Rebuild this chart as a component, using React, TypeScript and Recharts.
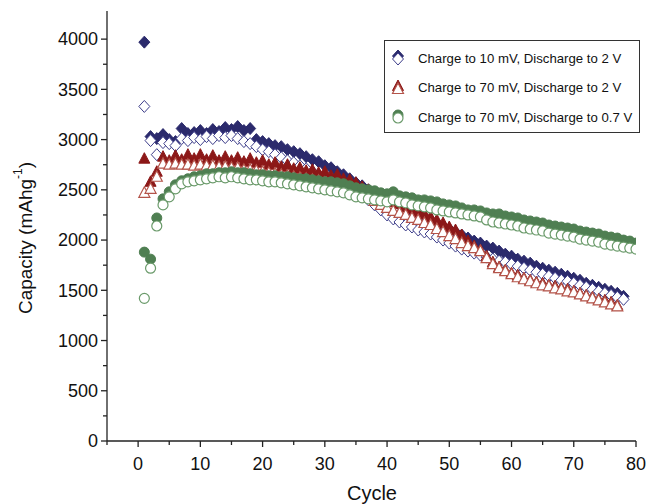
import React from 'react';
import { ScatterChart, Scatter, XAxis, YAxis } from 'recharts';

// Capacity (mAh/g) by cycle
const navyCharge = [3970, 3030, 3010, 3050, 3000, 2980, 3110, 3060, 3070, 3090,
  3060, 3100, 3080, 3120, 3100, 3130, 3090, 3110, 3000, 2980,
  2960, 2940, 2930, 2900, 2880, 2860, 2830, 2800, 2780, 2740,
  2720, 2680, 2650, 2610, 2570, 2540, 2500, 2470, 2440, 2410,
  2380, 2350, 2320, 2290, 2260, 2230, 2200, 2170, 2140, 2110,
  2080, 2050, 2020, 1990, 1970, 1940, 1920, 1890, 1860, 1840,
  1810, 1790, 1770, 1740, 1720, 1700, 1680, 1660, 1640, 1620,
  1600, 1570, 1550, 1530, 1510, 1490, 1470, 1440];
const navyDischarge = [3330, 2990, 2850, 2970, 2960, 2940, 3010, 2990, 3020, 3000,
  3030, 3010, 3040, 3020, 3040, 3010, 2980, 2960, 2930, 2900,
  2880, 2850, 2820, 2790, 2770, 2740, 2710, 2680, 2650, 2620,
  2600, 2570, 2550, 2520, 2490, 2450, 2400, 2350, 2300, 2250,
  2210, 2180, 2150, 2130, 2100, 2080, 2060, 2030, 2000, 1970,
  1940, 1910, 1890, 1870, 1850, 1830, 1810, 1790, 1780, 1760,
  1740, 1720, 1700, 1680, 1660, 1640, 1620, 1600, 1590, 1570,
  1550, 1530, 1510, 1490, 1470, 1450, 1430, 1410];
const redCharge = [2810, 2580, 2680, 2830, 2790, 2840, 2800, 2850, 2810, 2850,
  2800, 2840, 2790, 2830, 2790, 2820, 2780, 2810, 2770, 2790,
  2750, 2770, 2730, 2750, 2710, 2720, 2690, 2700, 2670, 2680,
  2640, 2650, 2610, 2600, 2570, 2530, 2500, 2470, 2440, 2410,
  2380, 2360, 2330, 2310, 2280, 2260, 2230, 2200, 2170, 2130,
  2100, 2050, 1990, 1940, 1900, 1840, 1780, 1730, 1700, 1670,
  1650, 1620, 1600, 1580, 1570, 1550, 1540, 1520, 1510, 1490,
  1470, 1450, 1430, 1410, 1400, 1380, 1350];
const redDischarge = [2470, 2510, 2630, 2760, 2750, 2760, 2750, 2750, 2740, 2750,
  2740, 2740, 2730, 2730, 2720, 2720, 2700, 2700, 2690, 2680,
  2670, 2660, 2650, 2640, 2630, 2620, 2610, 2600, 2590, 2570,
  2560, 2550, 2540, 2520, 2500, 2460, 2420, 2390, 2350, 2320,
  2290, 2270, 2250, 2220, 2200, 2170, 2150, 2110, 2080, 2040,
  2010, 1970, 1940, 1920, 1890, 1820, 1760, 1720, 1690, 1660,
  1630, 1610, 1590, 1570, 1550, 1540, 1520, 1510, 1490, 1480,
  1460, 1440, 1420, 1400, 1380, 1360, 1340];
const greenCharge = [1880, 1810, 2220, 2410, 2480, 2550, 2590, 2610, 2630, 2640,
  2660, 2660, 2670, 2670, 2680, 2670, 2670, 2660, 2650, 2650,
  2640, 2640, 2630, 2630, 2620, 2610, 2610, 2600, 2590, 2580,
  2580, 2570, 2560, 2540, 2520, 2510, 2500, 2490, 2470, 2460,
  2480, 2440, 2430, 2420, 2400, 2400, 2390, 2380, 2360, 2350,
  2340, 2320, 2300, 2300, 2290, 2270, 2260, 2260, 2240, 2230,
  2220, 2200, 2190, 2180, 2170, 2150, 2140, 2130, 2120, 2110,
  2090, 2080, 2070, 2060, 2040, 2030, 2020, 2000, 1990, 1970];
const greenDischarge = [1420, 1720, 2140, 2350, 2430, 2510, 2560, 2580, 2590, 2600,
  2610, 2620, 2630, 2620, 2630, 2620, 2610, 2600, 2600, 2590,
  2580, 2580, 2570, 2560, 2550, 2540, 2530, 2520, 2510, 2500,
  2490, 2480, 2470, 2450, 2430, 2420, 2410, 2400, 2390, 2380,
  2400, 2380, 2370, 2350, 2340, 2330, 2320, 2300, 2290, 2280,
  2270, 2260, 2250, 2240, 2230, 2200, 2180, 2170, 2160, 2150,
  2140, 2120, 2110, 2100, 2090, 2070, 2060, 2050, 2040, 2030,
  2010, 2000, 1990, 1980, 1960, 1950, 1940, 1930, 1920, 1910];

const xTicks = [-5, 0, 5, 10, 15, 20, 25, 30, 35, 40, 45, 50, 55, 60, 65, 70, 75, 80];
const yTicks = [0, 250, 500, 750, 1000, 1250, 1500, 1750, 2000, 2250, 2500, 2750, 3000, 3250, 3500, 3750, 4000];
const legendLabels = [
  'Charge to 10 mV, Discharge to 2 V',
  'Charge to 70 mV, Discharge to 2 V',
  'Charge to 70 mV, Discharge to 0.7 V',
];

const toPoints = (vals: number[]) => vals.map((v, i) => ({ cycle: i + 1, capacity: v }));

const NAVY = '#2b2a6c';
const NAVY_OPEN = '#3d3d8a';
const RED = '#8c1818';
const RED_OPEN = '#b4544a';
const GREEN = '#4f7f52';
const GREEN_OPEN = '#6a9a6a';
const FONT = 'Arial, "Liberation Sans", sans-serif';

const diamond = (cx: number, cy: number, fill: string, stroke: string, sw: number) => (
  <path d={`M${cx},${cy - 6}L${cx + 5.5},${cy}L${cx},${cy + 6}L${cx - 5.5},${cy}Z`} fill={fill} stroke={stroke} strokeWidth={sw} />
);
const triangle = (cx: number, cy: number, fill: string, stroke: string, sw: number) => (
  <path d={`M${cx},${cy - 6}L${cx + 5.5},${cy + 4.5}L${cx - 5.5},${cy + 4.5}Z`} fill={fill} stroke={stroke} strokeWidth={sw} />
);
const circle = (cx: number, cy: number, fill: string, stroke: string, sw: number) => (
  <circle cx={cx} cy={cy} r={5} fill={fill} stroke={stroke} strokeWidth={sw} />
);

const NavyFilled = (p: any) => diamond(p.cx, p.cy, NAVY, NAVY, 1);
const NavyOpen = (p: any) => diamond(p.cx, p.cy, '#fff', NAVY_OPEN, 1);
const RedFilled = (p: any) => triangle(p.cx, p.cy, RED, RED, 1);
const RedOpen = (p: any) => triangle(p.cx, p.cy, '#fff', RED_OPEN, 1.2);
const GreenFilled = (p: any) => circle(p.cx, p.cy, GREEN, GREEN, 1);
const GreenOpen = (p: any) => circle(p.cx, p.cy, '#fff', GREEN_OPEN, 1.2);

const XTick = (props: any) => {
  const { x, y, payload } = props;
  const v = payload.value;
  const major = v % 10 === 0;
  return (
    <g>
      <line x1={x} y1={y} x2={x} y2={y + (major ? 6 : 4)} stroke="#222" strokeWidth={1.3} />
      {major && v >= 0 && (
        <text x={x} y={y + 29} textAnchor="middle" fontSize={18} fill="#111" fontFamily={FONT}>{v}</text>
      )}
    </g>
  );
};

const YTick = (props: any) => {
  const { x, y, payload } = props;
  const v = payload.value;
  const major = v % 500 === 0;
  return (
    <g>
      <line x1={x} y1={y} x2={x - (major ? 6 : 4)} y2={y} stroke="#222" strokeWidth={1.3} />
      {major && (
        <text x={x - 9} y={y} dy="0.35em" textAnchor="end" fontSize={18} fill="#111" fontFamily={FONT}>{v}</text>
      )}
    </g>
  );
};

const legendIcons = [
  (
    <svg width={16} height={18}>
      {diamond(8, 7, NAVY, NAVY, 1)}
      {diamond(8, 10, '#fff', NAVY_OPEN, 1)}
    </svg>
  ),
  (
    <svg width={16} height={18}>
      {triangle(8, 7, RED, RED, 1)}
      {triangle(8, 10, '#fff', RED_OPEN, 1.2)}
    </svg>
  ),
  (
    <svg width={16} height={18}>
      {circle(8, 7, GREEN, GREEN, 1)}
      {circle(8, 10, '#fff', GREEN_OPEN, 1.2)}
    </svg>
  ),
];

export default function App() {
  return (
    <div style={{ position: 'absolute', left: 0, top: 0, width: 651, height: 504, background: '#fff' }}>
      <ScatterChart width={651} height={504} margin={{ top: 11, right: 15, bottom: 0, left: 0 }}>
        <XAxis
          type="number"
          dataKey="cycle"
          domain={[-5, 80]}
          ticks={xTicks}
          interval={0}
          tickSize={0}
          tickMargin={0}
          tickLine={false}
          tick={<XTick />}
          height={63}
          axisLine={{ stroke: '#222', strokeWidth: 1.3 }}
          allowDataOverflow
        />
        <YAxis
          type="number"
          dataKey="capacity"
          domain={[0, 4280]}
          ticks={yTicks}
          interval={0}
          tickSize={0}
          tickMargin={0}
          tickLine={false}
          tick={<YTick />}
          width={107}
          axisLine={{ stroke: '#222', strokeWidth: 1.3 }}
          allowDataOverflow
        />
        <Scatter data={toPoints(navyCharge)} shape={NavyFilled} isAnimationActive={false} />
        <Scatter data={toPoints(navyDischarge)} shape={NavyOpen} isAnimationActive={false} />
        <Scatter data={toPoints(redCharge)} shape={RedFilled} isAnimationActive={false} />
        <Scatter data={toPoints(redDischarge)} shape={RedOpen} isAnimationActive={false} />
        <Scatter data={toPoints(greenCharge)} shape={GreenFilled} isAnimationActive={false} />
        <Scatter data={toPoints(greenDischarge)} shape={GreenOpen} isAnimationActive={false} />
      </ScatterChart>
      <svg style={{ position: 'absolute', left: 0, top: 0, pointerEvents: 'none' }} width={651} height={504}>
        <text
          transform="translate(25,238) rotate(-90)"
          textAnchor="middle"
          dominantBaseline="central"
          fontSize={19}
          fill="#111"
          fontFamily={FONT}
        >
          Capacity (mAhg<tspan fontSize={12} dy={-7}>-1</tspan><tspan dy={7}>)</tspan>
        </text>
        <text x={372} y={500} textAnchor="middle" fontSize={20} fill="#111" fontFamily={FONT}>Cycle</text>
      </svg>
      <div
        style={{
          position: 'absolute', left: 384, top: 40, width: 256, height: 93, boxSizing: 'border-box',
          border: '1px solid #333', background: '#fff', fontFamily: FONT, fontSize: 13.2, color: '#111',
        }}
      >
        {legendLabels.map((label, i) => (
          <div key={label} style={{ position: 'absolute', left: 5, top: 8 + i * 29.5, height: 18, display: 'flex', alignItems: 'center' }}>
            {legendIcons[i]}
            <span style={{ marginLeft: 12, whiteSpace: 'nowrap' }}>{label}</span>
          </div>
        ))}
      </div>
    </div>
  );
}
